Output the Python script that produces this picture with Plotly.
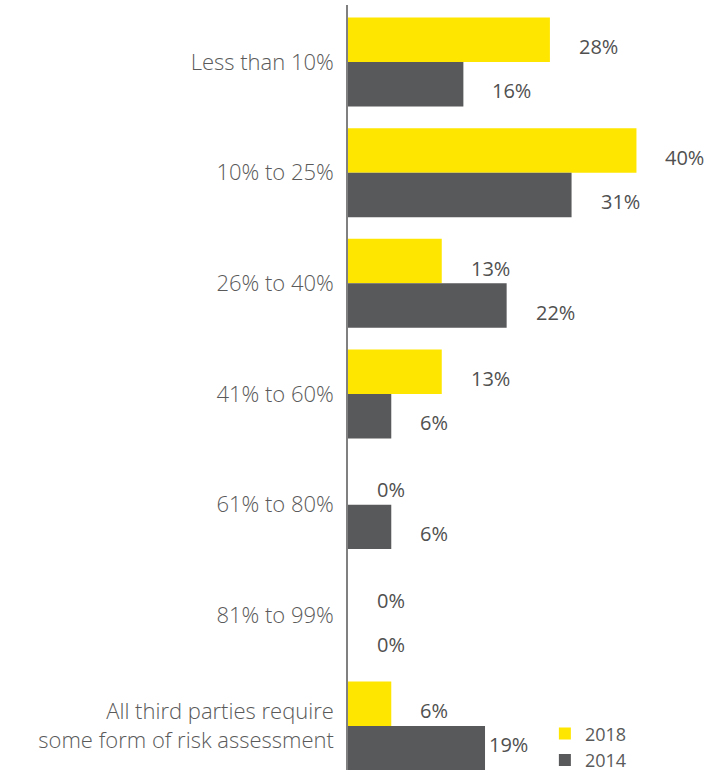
import plotly.graph_objects as go

categories = [
    "Less than 10%",
    "10% to 25%",
    "26% to 40%",
    "41% to 60%",
    "61% to 80%",
    "81% to 99%",
    "All third parties require<br>some form of risk assessment",
]
values_2018 = [28, 40, 13, 13, 0, 0, 6]
values_2014 = [16, 31, 22, 6, 6, 0, 19]

YELLOW = "#FFE600"
GRAY = "#58595B"
LABEL_GRAY = "#505050"
CAT_GRAY = "#5A5A5A"

fig = go.Figure()
fig.add_trace(go.Bar(name="2018", y=categories, x=values_2018, orientation="h",
                     marker=dict(color=YELLOW, line=dict(width=0))))
fig.add_trace(go.Bar(name="2014", y=categories, x=values_2014, orientation="h",
                     marker=dict(color=GRAY, line=dict(width=0))))

# value labels beside each bar
label_font = dict(family="Open Sans", size=20, color=LABEL_GRAY, weight=500)
for cat, v in zip(categories, values_2018):
    fig.add_annotation(x=v, y=cat, text=f"{v}%", showarrow=False, xanchor="left",
                       xshift=27, yshift=15, font=label_font)
last = len(categories) - 1
for i, (cat, v) in enumerate(zip(categories, values_2014)):
    # last label sits tight to its bar to keep clear of the legend
    if i == last:
        fig.add_annotation(x=v, y=cat, text=f"{v}%", showarrow=False, xanchor="left",
                           xshift=2, yshift=-19, font=label_font)
    else:
        fig.add_annotation(x=v, y=cat, text=f"{v}%", showarrow=False, xanchor="left",
                           xshift=27, yshift=-29, font=label_font)

fig.update_layout(
    width=723, height=773,
    margin=dict(l=348, r=0, t=5, b=3, autoexpand=False),
    paper_bgcolor="white", plot_bgcolor="white",
    barmode="group", bargap=0.196, bargroupgap=0,
    showlegend=True,
    legend=dict(x=0.525, y=-0.011, xanchor="left", yanchor="bottom",
                font=dict(family="Open Sans", size=18, color=CAT_GRAY),
                tracegroupgap=0, itemwidth=30, bgcolor="rgba(0,0,0,0)"),
    xaxis=dict(range=[0, 52], showgrid=False, zeroline=False, showticklabels=False,
               showline=False, ticks=""),
    yaxis=dict(type="category", range=[6.398, -0.515], showgrid=False, zeroline=False,
               showline=True, linecolor="#808080", linewidth=1.5, ticks="",
               ticklabelstandoff=8,
               tickfont=dict(family="Open Sans", size=22, color=CAT_GRAY, weight=300)),
)

fig.write_html("out.html")
